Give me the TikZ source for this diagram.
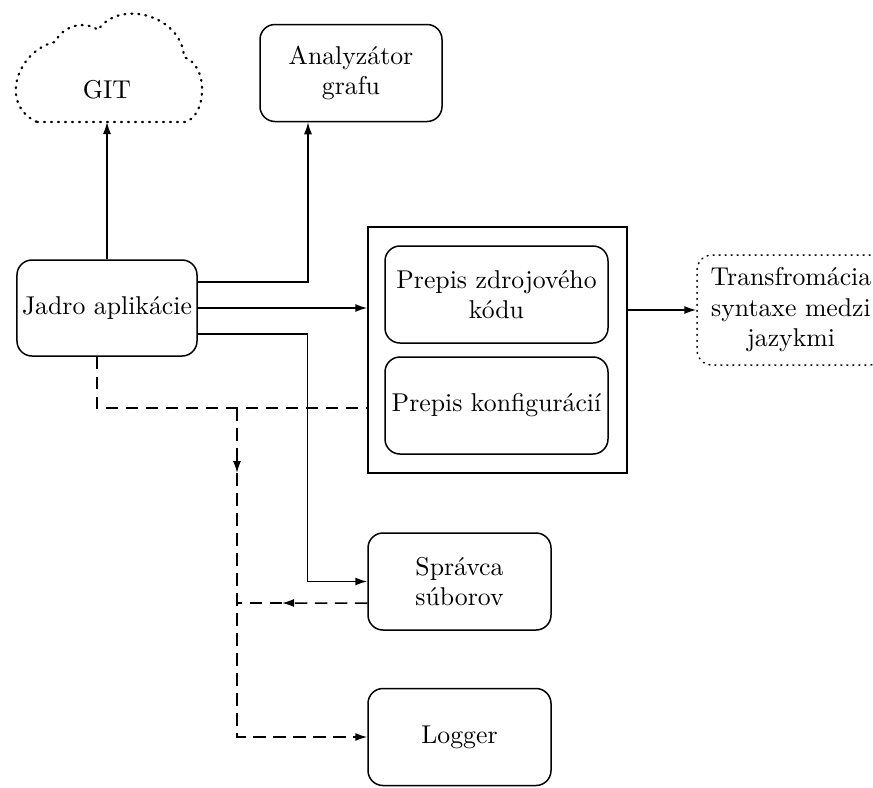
\documentclass[tikz,border=0pt]{standalone}
\usetikzlibrary{arrows.meta,calc}
\begin{document}
\begin{tikzpicture}[
  x=0.4pt, y=-0.4pt,
  every node/.style={font=\fontsize{10.3pt}{12.2pt}\selectfont},
  line width=0.6pt,
  box/.style={draw, rounded corners=6pt, align=center, inner sep=2pt},
  arr/.style={-{Latex[length=4.8pt,width=3.2pt]}},
  dash line/.style={dash pattern=on 5pt off 3pt},
  fine dots/.style={dash pattern=on 0.4pt off 2pt, line cap=round},
  cloud dots/.style={dash pattern=on 0.4pt off 2.4pt, line cap=round, line width=0.9pt}
]
\useasboundingbox (0,0) rectangle (873,787);

% cloud holding the repository
\draw[cloud dots]
  (37,122) -- (185,122)
  .. controls (206,117) and (210,66) .. (184,57)
  .. controls (182,16) and (120,-2) .. (98,30)
  .. controls (86,21) and (64,24) .. (55,42)
  .. controls (18,50) and (-2,104) .. (37,122) -- cycle;
\node (git) at (107,90) {GIT};
\coordinate (gitbottom) at (107,122);

% main nodes
\node[box, minimum width=72.8pt, minimum height=38.8pt] (analyzer) at (351,73) {Analyzátor\\grafu};
\node[box, minimum width=72pt, minimum height=38.4pt] (core) at (107,308) {Jadro aplikácie};
\node[draw, rounded corners=0pt, minimum width=103.6pt, minimum height=98.4pt] (rewrite) at (497.5,350) {};
\node[box, minimum width=89.2pt, minimum height=38.8pt] (source) at (496.5,294.5) {Prepis zdrojového\\kódu};
\node[box, minimum width=89.2pt, minimum height=38.8pt] (config) at (496.5,405.5) {Prepis konfigurácií};
\node[box, fine dots, minimum width=75.2pt, minimum height=44pt] (transform) at (791,310) {Transfromácia\\syntaxe medzi\\jazykmi};
\node[box, minimum width=73.2pt, minimum height=38.8pt] (files) at (459.5,581.5) {Správca\\súborov};
\node[box, minimum width=73.2pt, minimum height=38.8pt] (logger) at (459.5,737) {Logger};

% solid connectors
\draw[arr] (core.north) -- (gitbottom);
\draw[arr] ([yshift=10.4pt]core.east) -| ([xshift=-17.2pt]analyzer.south);
\draw[arr] (core.east) -- (core.east -| rewrite.west);
\draw[arr] ([yshift=-10.4pt]core.east) -| ([xshift=-24pt]files.west) -- (files.west);
\draw[arr] (rewrite.east |- transform.west) -- (transform.west);

% dashed connectors
\coordinate (junction) at (237,408);
\coordinate (downtip) at (237,473);
\coordinate (lefttip) at (282,603);
\coordinate (backend) at (237,603);
\draw[dash line] ([xshift=-4pt]core.south) |- ([yshift=-23.2pt]rewrite.west);
\draw[dash line, arr] (junction) -- (downtip);
\draw[dash line, arr] (downtip) |- (logger.west);
\draw[dash line, arr] ([yshift=-8.6pt]files.west) -- (lefttip);
\draw[dash line] (lefttip) -- (backend);
\end{tikzpicture}
\end{document}
